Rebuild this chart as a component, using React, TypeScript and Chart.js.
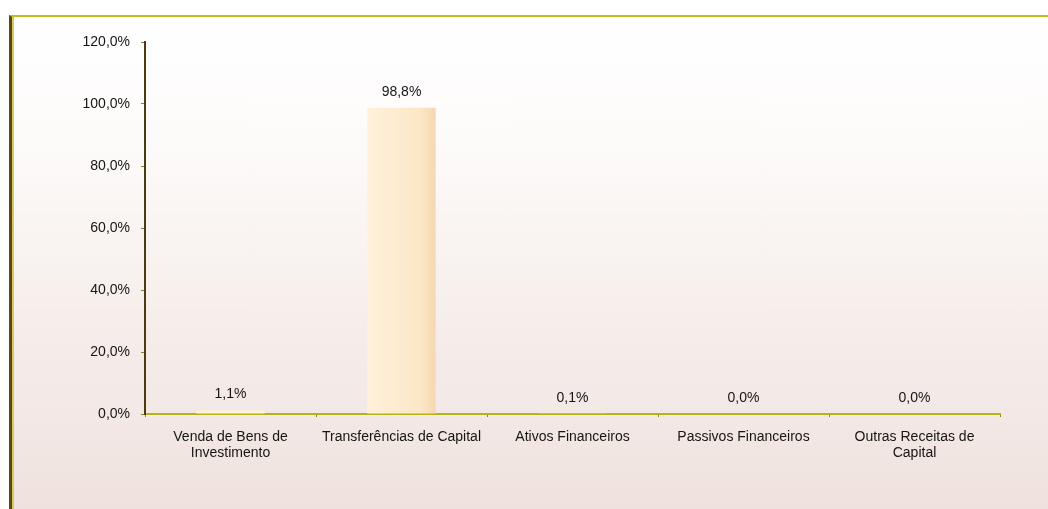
import React, { useEffect, useRef } from "react";
import { Chart, registerables } from "chart.js";

Chart.register(...registerables);

const categories: (string | string[])[] = [
  ["Venda de Bens de", "Investimento"],
  "Transferências de Capital",
  "Ativos Financeiros",
  "Passivos Financeiros",
  ["Outras Receitas de", "Capital"],
];
const values: number[] = [1.1, 98.8, 0.1, 0.0, 0.0];
const yTicks: number[] = [0, 20, 40, 60, 80, 100, 120];

const fmt = (v: number) => v.toFixed(1).replace(".", ",") + "%";
const FONT = "'Liberation Sans', Arial, sans-serif";

const valueLabels = {
  id: "valueLabels",
  afterDatasetsDraw(chart: any) {
    const ctx = chart.ctx;
    const meta = chart.getDatasetMeta(0);
    ctx.save();
    ctx.font = "14px " + FONT;
    ctx.fillStyle = "#151515";
    ctx.textAlign = "center";
    ctx.textBaseline = "middle";
    meta.data.forEach((el: any, i: number) => {
      ctx.fillText(fmt(values[i]), el.x, el.y - 16);
    });
    ctx.restore();
  },
};

export default function App() {
  const ref = useRef<HTMLCanvasElement>(null);
  useEffect(() => {
    if (!ref.current) return;
    const ctx = ref.current.getContext("2d")!;
    const grad = ctx.createLinearGradient(366, 0, 434, 0);
    grad.addColorStop(0, "#fff1dc");
    grad.addColorStop(0.8, "#fde6c6");
    grad.addColorStop(1, "#f6d9b4");
    const chart = new Chart(ref.current, {
      type: "bar",
      data: {
        labels: categories,
        datasets: [
          {
            data: values,
            backgroundColor: grad,
            borderWidth: 0,
            barPercentage: 0.4,
            categoryPercentage: 1,
          },
        ],
      },
      options: {
        animation: false,
        responsive: false,
        layout: { padding: { left: 0, right: 48, top: 42, bottom: 0 } },
        plugins: { legend: { display: false }, tooltip: { enabled: false } },
        scales: {
          x: {
            grid: {
              display: true,
              drawOnChartArea: false,
              offset: true,
              tickLength: 3,
              color: "#8a8a20",
            },
            border: { display: true, color: "#b4b414", width: 2 },
            ticks: {
              color: "#151515",
              font: { family: FONT, size: 14, lineHeight: 1.15 },
              padding: 12,
              maxRotation: 0,
              autoSkip: false,
            },
            afterFit: (s: any) => {
              s.height = 95;
            },
          },
          y: {
            min: 0,
            max: 120,
            afterBuildTicks: (s: any) => {
              s.ticks = yTicks.map((v) => ({ value: v }));
            },
            grid: {
              display: true,
              drawOnChartArea: false,
              tickLength: 4,
              color: "#7a8a30",
            },
            border: { display: true, color: "#4a3c10", width: 2 },
            ticks: {
              color: "#151515",
              font: { family: FONT, size: 14 },
              padding: 11,
              callback: (v: any) => fmt(Number(v)),
            },
            afterFit: (s: any) => {
              s.width = 145;
            },
          },
        },
      },
      plugins: [valueLabels],
    });
    return () => chart.destroy();
  }, []);

  return (
    <div
      style={{
        position: "fixed",
        left: 0,
        top: 0,
        width: 1048,
        height: 509,
        background: "#fff",
        overflow: "hidden",
      }}
    >
      <div
        style={{
          position: "absolute",
          left: 9,
          top: 15,
          width: 1100,
          height: 600,
          borderTop: "2px solid #c4bc1c",
          borderLeft: "3px solid #5a4810",
          boxShadow: "inset 2px 0 0 #d8c860",
          background:
            "linear-gradient(to bottom, #ffffff 0px, #fdfbfa 120px, #f6eeeb 300px, #efe2de 494px)",
        }}
      />
      <canvas
        ref={ref}
        width={1048}
        height={509}
        style={{ position: "absolute", left: 0, top: 0 }}
      />
    </div>
  );
}
